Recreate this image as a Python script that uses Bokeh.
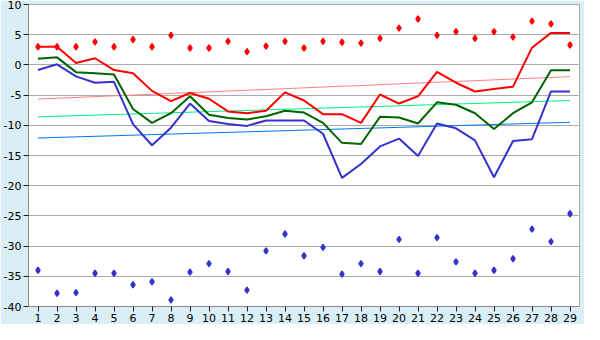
from bokeh.plotting import figure
from bokeh.models import Range1d, FixedTicker
from bokeh.embed import file_html
from bokeh.resources import INLINE

days = list(range(1, 30))

line_red = [3.0, 3.0, 0.3, 1.1, -0.85, -1.4, -4.3, -6.0, -4.65, -5.6, -7.7, -8.0, -7.6, -4.55, -5.9,
            -8.15, -8.15, -9.6, -4.9, -6.4, -5.2, -1.15, -2.95, -4.4, -4.0, -3.6, 2.85, 5.3, 5.3]
line_green = [1.0, 1.25, -1.2, -1.4, -1.6, -7.3, -9.6, -8.0, -5.2, -8.25, -8.8, -9.05, -8.5, -7.6, -7.9,
              -9.6, -12.9, -13.1, -8.6, -8.7, -9.7, -6.2, -6.6, -8.0, -10.6, -8.0, -6.2, -0.9, -0.9]
line_blue = [-0.85, 0.1, -1.9, -2.95, -2.8, -9.8, -13.3, -10.4, -6.4, -9.3, -9.8, -10.1, -9.2, -9.2, -9.2,
             -11.4, -18.7, -16.4, -13.5, -12.2, -15.1, -9.7, -10.5, -12.5, -18.6, -12.6, -12.3, -4.4, -4.4]
points_high = [3.0, 3.0, 3.0, 3.8, 3.0, 4.2, 3.0, 4.9, 2.8, 2.8, 3.9, 2.2, 3.1, 3.9, 2.8,
               3.9, 3.75, 3.6, 4.4, 6.1, 7.6, 4.9, 5.5, 4.4, 5.5, 4.6, 7.25, 6.8, 3.3]
points_low = [-34.0, -37.8, -37.7, -34.5, -34.5, -36.4, -35.9, -38.9, -34.3, -32.9, -34.2, -37.3, -30.8, -28.0, -31.6,
              -30.2, -34.65, -32.9, -34.2, -28.9, -34.5, -28.6, -32.6, -34.5, -34.0, -32.1, -27.2, -29.25, -24.65]

trend_x = [1, 29]
trend_red = [-5.65, -1.95]
trend_green = [-8.6, -5.9]
trend_blue = [-12.1, -9.5]

y_ticks = [-40, -35, -30, -25, -20, -15, -10, -5, 0, 5, 10]

BG = "#d9eef5"

p = figure(width=584, height=324, output_backend="svg", toolbar_location=None,
           x_range=Range1d(0.5, 29.5), y_range=Range1d(-40, 10),
           background_fill_color="white", border_fill_color=BG,
           min_border_left=26, min_border_right=5, min_border_top=4, min_border_bottom=18)

p.outline_line_color = "#aaaaaa"
p.outline_line_width = 1

p.xgrid.visible = False
p.ygrid.grid_line_color = "#aaaaaa"
p.ygrid.grid_line_width = 1
p.ygrid.ticker = FixedTicker(ticks=y_ticks)

p.xaxis.ticker = FixedTicker(ticks=days)
p.yaxis.ticker = FixedTicker(ticks=y_ticks)
for ax in (p.xaxis, p.yaxis):
    ax.axis_line_color = "#888888"
    ax.major_tick_line_color = "#222222"
    ax.minor_tick_line_color = None
    ax.major_tick_in = 0
    ax.major_tick_out = 5
    ax.major_label_text_font = "DejaVu Sans"
    ax.major_label_text_font_size = "11px"
    ax.major_label_text_color = "#000000"
    ax.major_label_standoff = 2
p.yaxis.major_label_overrides = {t: str(t) for t in y_ticks}

# trend lines
p.line(trend_x, trend_red, line_color="#ff8080", line_width=1)
p.line(trend_x, trend_green, line_color="#00ee88", line_width=1)
p.line(trend_x, trend_blue, line_color="#0077ee", line_width=1)

# main lines
p.line(days, line_blue, line_color="#3333cc", line_width=2)
p.line(days, line_green, line_color="#006400", line_width=2)
p.line(days, line_red, line_color="#ff0000", line_width=2)

# points
p.scatter(days, points_high, marker="diamond_cross", size=6, fill_color="#ff0000", line_color="#ff0000", line_width=1.5)
p.scatter(days, points_low, marker="diamond_cross", size=6, fill_color="#3333cc", line_color="#3333cc", line_width=1.5)

html = file_html(p, INLINE)
html = html.replace("<body>", '<body style="background:%s;">' % BG, 1)
open("out.html", "w").write(html)
